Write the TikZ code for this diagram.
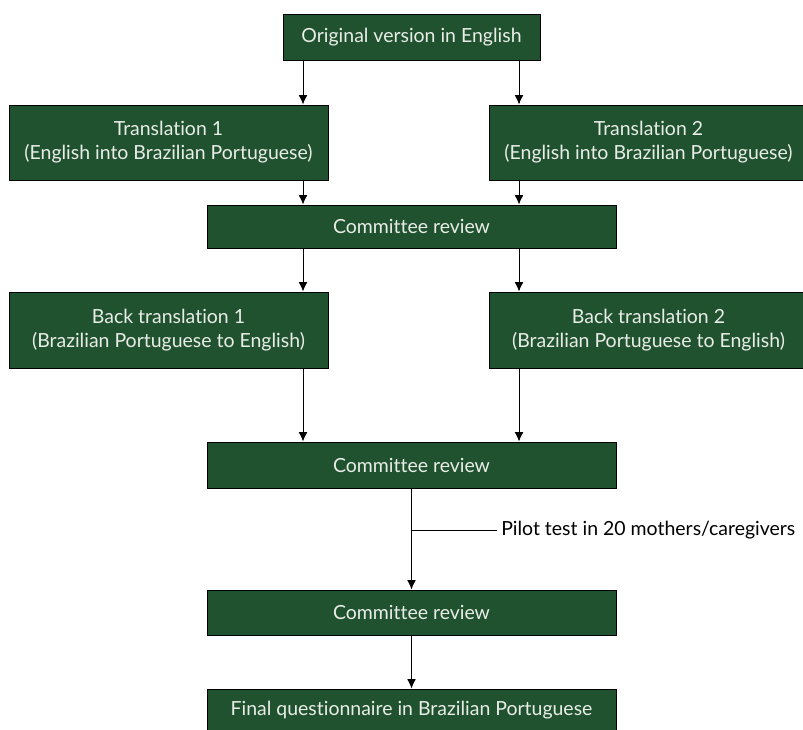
\documentclass[tikz,border=0pt]{standalone}
\usepackage{fontspec}
\setmainfont{Lato}[Ligatures=NoCommon]
\usetikzlibrary{arrows.meta}
\definecolor{boxgreen}{HTML}{21522F}
\definecolor{boxtext}{HTML}{E8EDE8}
\tikzset{
  stage/.style={draw=black, fill=boxgreen, text=boxtext, align=center,
    font=\fontsize{14.6}{18}\selectfont, inner sep=0pt, line width=0.7pt},
  flow/.style={-{Latex[length=7pt,width=6.5pt]}, line width=0.7pt}
}
\begin{document}
\begin{tikzpicture}[x=0.75pt,y=-0.75pt]
\useasboundingbox (0,0) rectangle (803,730);
\coordinate (L) at (303,0);
\coordinate (R) at (519,0);
\node[stage, minimum width=192.75pt, minimum height=34.5pt] (orig) at (411.5,37) {Original version in English};
\node[stage, minimum width=239.25pt, minimum height=56.25pt] (tr1) at (168.5,142.5) {Translation 1\\(English into Brazilian Portuguese)};
\node[stage, minimum width=239.25pt, minimum height=56.25pt] (tr2) at (648.5,142.5) {Translation 2\\(English into Brazilian Portuguese)};
\node[stage, minimum width=306.75pt, minimum height=32.25pt] (cr1) at (411.5,226.5) {Committee review};
\node[stage, minimum width=239.25pt, minimum height=57pt] (bt1) at (168.5,330) {Back translation 1\\(Brazilian Portuguese to English)};
\node[stage, minimum width=239.25pt, minimum height=57pt] (bt2) at (648.5,330) {Back translation 2\\(Brazilian Portuguese to English)};
\node[stage, minimum width=306.75pt, minimum height=34.5pt] (cr2) at (411.5,465) {Committee review};
\node[stage, minimum width=306.75pt, minimum height=33.75pt] (cr3) at (411.5,612.5) {Committee review};
\node[stage, minimum width=306.75pt, minimum height=31.5pt] (final) at (411.5,710) {Final questionnaire in Brazilian Portuguese};
\node[anchor=west, inner sep=3pt, font=\fontsize{14.6}{16}\selectfont] (pilot) at (497,530) {Pilot test in 20 mothers/caregivers};
\draw[flow] (orig.south -| L) -- (tr1.north -| L);
\draw[flow] (orig.south -| R) -- (tr2.north -| R);
\draw[flow] (tr1.south -| L) -- (cr1.north -| L);
\draw[flow] (tr2.south -| R) -- (cr1.north -| R);
\draw[flow] (cr1.south -| L) -- (bt1.north -| L);
\draw[flow] (cr1.south -| R) -- (bt2.north -| R);
\draw[flow] (bt1.south -| L) -- (cr2.north -| L);
\draw[flow] (bt2.south -| R) -- (cr2.north -| R);
\draw[flow] (cr2.south) -- (cr3.north);
\draw[line width=0.7pt] (pilot.west -| cr2.south) -- (pilot.west);
\draw[flow] (cr3.south) -- (final.north);
\end{tikzpicture}
\end{document}
